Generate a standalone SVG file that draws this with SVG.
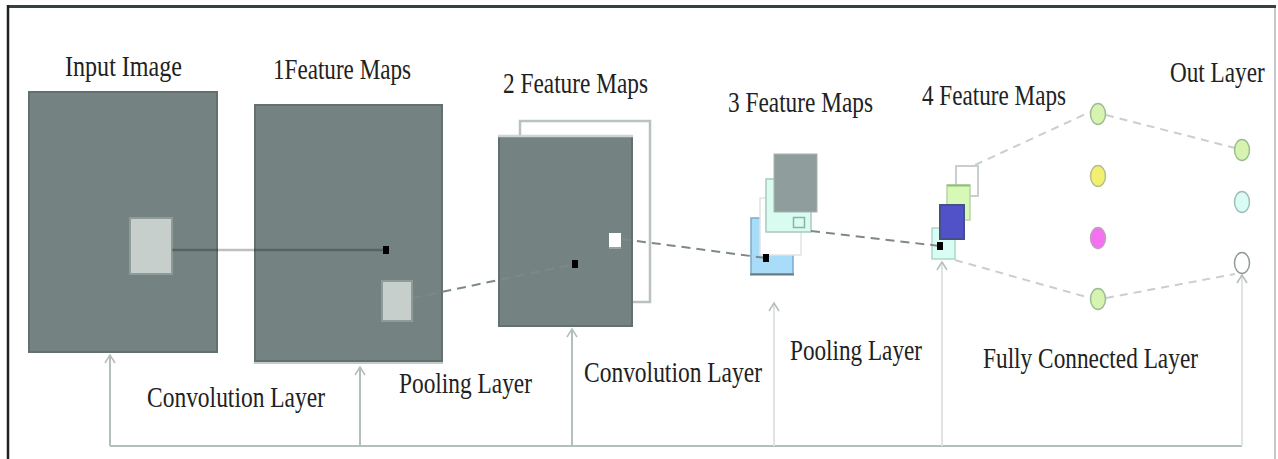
<svg xmlns="http://www.w3.org/2000/svg" width="1278" height="459" viewBox="0 0 1278 459">
<style>
.lbl{font-family:"Liberation Serif","DejaVu Serif",serif;font-size:29px;fill:#1e2222}
.map{fill:#748382;stroke:#627170;stroke-width:2}
.win{fill:#c6cfcc;stroke:#8e9c99;stroke-width:2}
.dash{stroke:#7e8888;stroke-width:2;stroke-dasharray:9 6;fill:none}
.vline{stroke:#b4bebd;stroke-width:2;fill:none}
.vlight{stroke:#e0e5e4;stroke-width:2;fill:none}
.dot{fill:#000}
.fc{stroke:#c8d0cc;stroke-width:2;stroke-dasharray:8 6;fill:none}
</style>
<defs>
<marker id="ah" viewBox="0 0 12 12" refX="10" refY="6" markerWidth="12" markerHeight="12" markerUnits="userSpaceOnUse" orient="auto">
<path d="M2,1 L10,6 L2,11" fill="none" stroke="#b4bebd" stroke-width="1.5"/>
</marker>
</defs>
<rect width="1278" height="459" fill="#fff"/>
<g id="frame">
<line x1="7" y1="6.5" x2="1276" y2="6.5" stroke="#374140" stroke-width="3"/>
<line x1="8" y1="5" x2="8" y2="459" stroke="#1d2120" stroke-width="2.5"/>
<line x1="1275" y1="8" x2="1275" y2="459" stroke="#c4c8c8" stroke-width="2"/>
</g>

<g id="input-image">
<rect class="map" x="29" y="92" width="188" height="260"/>
<rect class="win" x="130" y="218" width="42" height="56"/>
<text class="lbl" x="65" y="76" textLength="117" lengthAdjust="spacingAndGlyphs">Input Image</text>
</g>

<g id="feature-maps-1">
<rect class="map" x="255" y="105" width="187" height="256"/>
<line x1="254" y1="363" x2="443" y2="363" stroke="#c4cccb" stroke-width="2"/>
<rect class="win" x="382" y="281" width="30" height="40"/>
<text class="lbl" x="273" y="79" textLength="138" lengthAdjust="spacingAndGlyphs">1Feature Maps</text>
</g>

<g id="feature-maps-2">
<rect x="520" y="121" width="130" height="181" fill="none" stroke="#b8c2c1" stroke-width="2.5"/>
<rect class="map" x="499" y="136" width="133" height="190"/>
<line x1="498" y1="136" x2="633" y2="136" stroke="#cdd4d3" stroke-width="2.5"/>
<rect x="609" y="233" width="12" height="14" fill="#fff"/>
<line x1="609" y1="248" x2="621" y2="248" stroke="#a4afae" stroke-width="1.5"/>
<text class="lbl" x="503" y="93" textLength="145" lengthAdjust="spacingAndGlyphs">2 Feature Maps</text>
</g>

<g id="feature-maps-3">
<rect x="751" y="218" width="42" height="56" fill="#a9dcf8" stroke="#7aa8cc" stroke-width="1.5"/>
<line x1="750" y1="274.5" x2="794" y2="274.5" stroke="#687a80" stroke-width="2"/>
<rect x="760" y="198" width="41" height="57" fill="#fff" stroke="#dfe4e4" stroke-width="1.5"/>
<rect x="766" y="179" width="45" height="53" fill="#d9fcf0" stroke="#a9c9c0" stroke-width="1.5"/>
<rect x="774" y="154" width="43" height="58" fill="#8f9e9c" stroke="#a7b3b1" stroke-width="1"/>
<rect x="793.5" y="217.5" width="11" height="10" fill="none" stroke="#8fb0a6" stroke-width="1.5"/>
<text class="lbl" x="728" y="112" textLength="145" lengthAdjust="spacingAndGlyphs">3 Feature Maps</text>
</g>

<g id="feature-maps-4">
<rect x="956" y="166" width="22" height="30" fill="#fff" stroke="#c9cfce" stroke-width="2"/>
<rect x="947" y="185" width="23" height="35" fill="#d8f8b8" stroke="#b8d4a8" stroke-width="1.5"/>
<line x1="947" y1="185.5" x2="970" y2="185.5" stroke="#8fc07a" stroke-width="2"/>
<rect x="932" y="228" width="23" height="31" fill="#d9fcf4" stroke="#a9d9c9" stroke-width="1.5"/>
<rect x="940" y="205" width="24" height="34" fill="#5252c8" stroke="#45508a" stroke-width="2"/>
<text class="lbl" x="922" y="105" textLength="144" lengthAdjust="spacingAndGlyphs">4 Feature Maps</text>
</g>

<g id="connectors">
<line x1="172" y1="250" x2="386" y2="250" stroke="#000" stroke-opacity="0.25" stroke-width="2.5"/>
<line class="dash" x1="413" y1="298" x2="575" y2="264"/>
<line class="dash" x1="622" y1="239" x2="766" y2="258"/>
<line class="dash" x1="811" y1="231" x2="940" y2="246"/>
<line class="fc" x1="975" y1="165" x2="1090" y2="112"/>
<line class="fc" x1="1106" y1="115" x2="1235" y2="148"/>
<line class="fc" x1="955" y1="260" x2="1090" y2="298"/>
<line class="fc" x1="1106" y1="298" x2="1235" y2="274"/>
<line class="vline" x1="110" y1="446" x2="1242" y2="446"/>
<line class="vline" x1="110" y1="446" x2="110" y2="355" marker-end="url(#ah)"/>
<line class="vline" x1="360" y1="446" x2="360" y2="367" marker-end="url(#ah)"/>
<line class="vline" x1="572" y1="446" x2="572" y2="329" marker-end="url(#ah)"/>
<line class="vlight" x1="774" y1="446" x2="774" y2="303" marker-end="url(#ah)"/>
<line class="vlight" x1="942" y1="446" x2="942" y2="262" marker-end="url(#ah)"/>
<line class="vlight" x1="1242" y1="446" x2="1242" y2="275" marker-end="url(#ah)"/>
<rect class="dot" x="383" y="246" width="6" height="8"/>
<rect class="dot" x="572" y="260" width="6" height="8"/>
<rect class="dot" x="763" y="254" width="6" height="8"/>
<rect class="dot" x="937" y="242" width="6" height="8"/>
</g>

<g id="fully-connected">
<ellipse cx="1098" cy="114" rx="7.5" ry="10.5" fill="#d6f4b0" stroke="#9cbc94" stroke-width="1.5"/>
<ellipse cx="1098" cy="176" rx="7.5" ry="10.5" fill="#f2f070" stroke="#b8bc90" stroke-width="1.5"/>
<ellipse cx="1098" cy="238" rx="7.5" ry="10.5" fill="#f470f0" stroke="#c0a0c0" stroke-width="1.5"/>
<ellipse cx="1098" cy="299" rx="7.5" ry="10.5" fill="#d6f4b0" stroke="#9cbc94" stroke-width="1.5"/>
<text class="lbl" x="983" y="368" textLength="215" lengthAdjust="spacingAndGlyphs">Fully Connected Layer</text>
</g>

<g id="out-layer">
<ellipse cx="1242" cy="150" rx="7.5" ry="10.5" fill="#d6f4b0" stroke="#9cbc94" stroke-width="1.5"/>
<ellipse cx="1242" cy="202" rx="7.5" ry="10.5" fill="#d9fcf4" stroke="#a2bcb8" stroke-width="1.5"/>
<ellipse cx="1242" cy="263" rx="7.5" ry="10.5" fill="#fff" stroke="#909a98" stroke-width="1.5"/>
<text class="lbl" transform="translate(1170 82) scale(0.8 1)" x="0" y="0">Out Layer</text>
</g>

<g id="layer-labels">
<text class="lbl" x="147" y="407" textLength="178" lengthAdjust="spacingAndGlyphs">Convolution Layer</text>
<text class="lbl" x="399" y="393" textLength="133" lengthAdjust="spacingAndGlyphs">Pooling Layer</text>
<text class="lbl" x="584" y="382" textLength="178" lengthAdjust="spacingAndGlyphs">Convolution Layer</text>
<text class="lbl" x="790" y="360" textLength="132" lengthAdjust="spacingAndGlyphs">Pooling Layer</text>
</g>
</svg>
